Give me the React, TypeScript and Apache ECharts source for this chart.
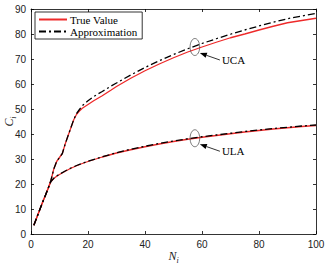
import React, { useEffect, useRef } from "react";
import * as echarts from "echarts";

// Number of elements N_i and the capacity C_i for the two array geometries
const nUCA = [1, 2, 3, 4, 5, 6, 7, 8, 9, 10, 11, 12, 13, 14, 15, 16, 17, 18, 20, 22, 25, 28, 30, 35, 40, 45, 50, 55, 60, 65, 70, 75, 80, 85, 90, 95, 100];
const ucaTrue = [3.5, 6.5, 9.5, 12.5, 15.3, 18.2, 21.5, 26, 29, 30.6, 32.2, 36, 39.3, 42.5, 45.7, 47.9, 49.2, 50.3, 51.8, 53.3, 55.3, 57.5, 59, 62.3, 65.3, 68, 70.5, 72.8, 74.8, 76.7, 78.5, 80, 81.6, 83.1, 84.5, 85.4, 86.3];
const ucaApprox = [3.5, 6.5, 9.5, 12.5, 15.3, 18.2, 21.5, 26, 29, 30.6, 32.2, 36, 39.3, 42.5, 45.8, 48.2, 49.8, 51.3, 53.3, 55, 57, 59.1, 60.4, 63.6, 66.6, 69.3, 71.8, 74.1, 76.2, 78.1, 79.9, 81.6, 83.2, 84.7, 86.1, 87.2, 88.2];

const nULA = [1, 2, 3, 4, 5, 6, 7, 8, 9, 10, 12, 14, 16, 18, 20, 25, 30, 35, 40, 45, 50, 55, 60, 65, 70, 75, 80, 85, 90, 95, 100];
const ulaTrue = [3.5, 6.5, 9.5, 12.5, 15.3, 18.2, 21, 22.2, 23.1, 23.8, 25.1, 26.3, 27.3, 28.2, 29, 30.8, 32.4, 33.7, 34.9, 36, 37, 37.9, 38.7, 39.4, 40.1, 40.8, 41.4, 42, 42.5, 43, 43.4];
const ulaApprox = [3.5, 6.5, 9.5, 12.5, 15.3, 18.2, 21, 22.3, 23.2, 23.9, 25.2, 26.4, 27.4, 28.3, 29.1, 30.9, 32.5, 33.9, 35.1, 36.2, 37.2, 38.1, 38.9, 39.6, 40.3, 41, 41.6, 42.2, 42.7, 43.2, 43.6];

// Where the curve groups are circled and labelled
const callouts = [
  { label: "UCA", at: [57.5, 74.8] },
  { label: "ULA", at: [57.5, 38.3] },
];

const RED = "#ee2a2a";
const BLACK = "#000000";
const SERIF = "Liberation Serif";
const SANS = "Liberation Sans";

const pairs = (xs: number[], ys: number[]) => xs.map((x, i) => [x, ys[i]]);

export default function App() {
  const ref = useRef<HTMLDivElement>(null);

  useEffect(() => {
    if (!ref.current) return;
    const chart = echarts.init(ref.current, null, { renderer: "svg" });

    const trueStyle = { color: RED, width: 1.3, type: "solid" as const };
    const approxStyle = { color: BLACK, width: 1.3, type: [7, 3, 2, 3] as any };

    const tickSide = {
      show: true,
      inside: true,
      length: 3,
      lineStyle: { color: BLACK, width: 0.8 },
    };
    const frameLine = { show: true, onZero: false, lineStyle: { color: BLACK, width: 0.8 } };
    const labelStyle = { color: "#222", fontFamily: SANS, fontSize: 10 };

    chart.setOption({
      animation: false,
      backgroundColor: "#fff",
      grid: { left: 31, right: 9, top: 9, bottom: 31, containLabel: false, outerBoundsMode: "none" },
      legend: {
        orient: "vertical",
        left: 35,
        top: 12,
        data: ["True Value", "Approximation"],
        backgroundColor: "#fff",
        borderColor: BLACK,
        borderWidth: 0.8,
        borderRadius: 0,
        padding: [2, 5, 2, 3],
        itemWidth: 28,
        itemHeight: 8,
        itemGap: 1,
        itemStyle: { opacity: 0 },
        textStyle: { fontFamily: SERIF, fontSize: 11, color: BLACK, padding: [0, 0, 0, -2] },
      },
      xAxis: [
        {
          type: "value",
          min: 0,
          max: 100,
          interval: 20,
          position: "bottom",
          axisLine: frameLine,
          axisTick: tickSide,
          splitLine: { show: false },
          axisLabel: { ...labelStyle, margin: 5 },
        },
        {
          type: "value",
          min: 0,
          max: 100,
          interval: 20,
          position: "top",
          axisLine: frameLine,
          axisTick: tickSide,
          axisLabel: { show: false },
          splitLine: { show: false },
        },
      ],
      yAxis: [
        {
          type: "value",
          min: 0,
          max: 90,
          interval: 10,
          position: "left",
          axisLine: frameLine,
          axisTick: tickSide,
          splitLine: { show: false },
          axisLabel: { ...labelStyle, margin: 5 },
        },
        {
          type: "value",
          min: 0,
          max: 90,
          interval: 10,
          position: "right",
          axisLine: frameLine,
          axisTick: tickSide,
          axisLabel: { show: false },
          splitLine: { show: false },
        },
      ],
      series: [
        { name: "True Value", type: "line", data: pairs(nUCA, ucaTrue), symbol: "none", lineStyle: trueStyle, itemStyle: { color: RED }, z: 2 },
        { name: "True Value", type: "line", data: pairs(nULA, ulaTrue), symbol: "none", lineStyle: trueStyle, itemStyle: { color: RED }, z: 2 },
        { name: "Approximation", type: "line", data: pairs(nUCA, ucaApprox), symbol: "none", lineStyle: approxStyle, itemStyle: { color: BLACK }, z: 3 },
        { name: "Approximation", type: "line", data: pairs(nULA, ulaApprox), symbol: "none", lineStyle: approxStyle, itemStyle: { color: BLACK }, z: 3 },
      ],
    });

    const elements: any[] = [];

    // Axis titles with italic subscripted symbols
    const nameRich = {
      v: { fontFamily: SERIF, fontStyle: "italic", fontSize: 12, fill: "#222", lineHeight: 14, verticalAlign: "middle" },
      s: { fontFamily: SERIF, fontStyle: "italic", fontSize: 8, fill: "#222", lineHeight: 17, verticalAlign: "bottom" },
    };
    const [gx0, gy0] = chart.convertToPixel({ gridIndex: 0 }, [0, 0]) as number[];
    const [gx1, gy1] = chart.convertToPixel({ gridIndex: 0 }, [100, 90]) as number[];
    elements.push({
      type: "text",
      x: (gx0 + gx1) / 2,
      y: gy0 + 22,
      style: { text: "{v|N}{s|i}", rich: nameRich, align: "center", verticalAlign: "middle" },
    });
    elements.push({
      type: "text",
      x: gx0 - 22,
      y: (gy0 + gy1) / 2,
      rotation: Math.PI / 2,
      style: { text: "{v|C}{s|i}", rich: nameRich, align: "center", verticalAlign: "middle" },
    });

    // Ellipse around each curve pair with an arrow pointing from its label
    callouts.forEach((c) => {
      const [cx, cy] = chart.convertToPixel({ gridIndex: 0 }, c.at) as number[];
      const rx = 4.8;
      const ry = 8.5;
      elements.push({
        type: "ellipse",
        shape: { cx, cy, rx, ry },
        style: { fill: "none", stroke: "#444", lineWidth: 0.7 },
        z: 10,
      });
      const tipX = cx + 5;
      const tipY = cy + 6;
      const tailX = cx + 25;
      const tailY = cy + 13;
      const ang = Math.atan2(tipY - tailY, tipX - tailX);
      const hl = 7;
      const hw = 2.6;
      const bx = tipX - hl * Math.cos(ang);
      const by = tipY - hl * Math.sin(ang);
      const px = -Math.sin(ang) * hw;
      const py = Math.cos(ang) * hw;
      elements.push({
        type: "line",
        shape: { x1: tailX, y1: tailY, x2: bx, y2: by },
        style: { stroke: BLACK, lineWidth: 0.8 },
        z: 10,
      });
      elements.push({
        type: "polygon",
        shape: { points: [[tipX, tipY], [bx + px, by + py], [bx - px, by - py]] },
        style: { fill: BLACK },
        z: 10,
      });
      elements.push({
        type: "text",
        x: tailX + 2,
        y: tailY,
        style: {
          text: c.label,
          font: `11px "${SERIF}"`,
          fill: BLACK,
          verticalAlign: "middle",
          align: "left",
        },
        z: 10,
      });
    });
    chart.setOption({ graphic: elements });

    return () => chart.dispose();
  }, []);

  return (
    <div
      ref={ref}
      style={{ position: "fixed", left: 0, top: 0, width: 325, height: 265, background: "#fff" }}
    />
  );
}
